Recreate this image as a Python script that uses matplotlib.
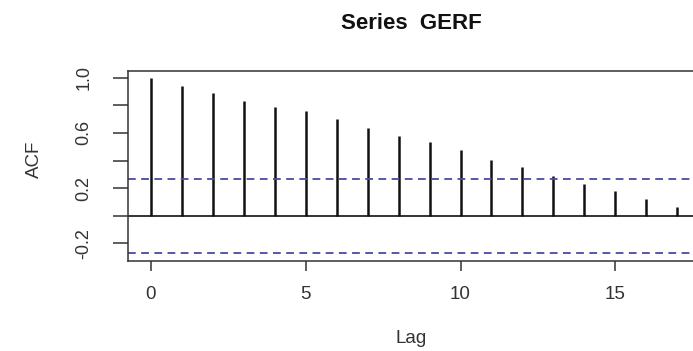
import numpy as np
import matplotlib
matplotlib.use("Agg")
import matplotlib.pyplot as plt

# Data
lags = [0, 1, 2, 3, 4, 5, 6, 7, 8, 9, 10, 11, 12, 13, 14, 15, 16, 17]
acf_values = [1.000, 0.940, 0.886, 0.833, 0.790, 0.756, 0.698, 0.638, 0.580,
              0.536, 0.476, 0.401, 0.350, 0.290, 0.232, 0.179, 0.121, 0.063]
conf_bound = 0.267
x_ticks = [0, 5, 10, 15]
y_ticks = [-0.2, 0.0, 0.2, 0.4, 0.6, 0.8, 1.0]
y_tick_labels = ["-0.2", "", "0.2", "", "0.6", "", "1.0"]
title = "Series  GERF"
x_label = "Lag"
y_label = "ACF"

W, H = 693, 351
fig = plt.figure(figsize=(W / 100, H / 100), dpi=100)
plt.rcParams['font.family'] = ['Liberation Sans', 'DejaVu Sans']

left_px, right_px, top_px, bottom_px = 128.3, 694.5, 70.7, 261.0
ax = fig.add_axes([left_px / W, 1 - bottom_px / H,
                   (right_px - left_px) / W, (bottom_px - top_px) / H])

ax.vlines(lags, 0, acf_values, colors="#111111", linewidth=1.8)
ax.axhline(0, color="#111111", linewidth=1.2)
ax.axhline(conf_bound, color="#4a4aa0", linewidth=1.3, linestyle=(0, (4.3, 3.0)))
ax.axhline(-conf_bound, color="#4a4aa0", linewidth=1.3, linestyle=(0, (4.3, 3.0)))

ax.set_xlim(-0.733, 17.56)
ax.set_ylim(-0.328, 1.051)

ax.set_xticks(x_ticks)
ax.set_xticklabels([str(t) for t in x_ticks])
ax.set_yticks(y_ticks)
ax.set_yticklabels(y_tick_labels, rotation=90, va="center")

for sp in ax.spines.values():
    sp.set_color("#333333")
    sp.set_linewidth(1.1)
ax.spines["right"].set_visible(False)

ax.tick_params(axis="x", length=7.5, width=1.1, color="#333333",
               labelsize=13.5, pad=10.5, labelcolor="#333333")
ax.tick_params(axis="y", length=10.8, width=1.1, color="#333333",
               labelsize=13, pad=15, labelcolor="#333333")

fig.text(411 / W, 1 - 29.3 / H, title, ha="center", va="baseline",
         fontsize=16, fontweight="bold", color="#111111")
fig.text(411 / W, 1 - 343 / H, x_label, ha="center", va="baseline",
         fontsize=13.5, color="#333333")
fig.text(34 / W, 1 - 159 / H, y_label, ha="center", va="center",
         rotation=90, fontsize=13.5, color="#333333")

fig.savefig("out.png", dpi=100)
